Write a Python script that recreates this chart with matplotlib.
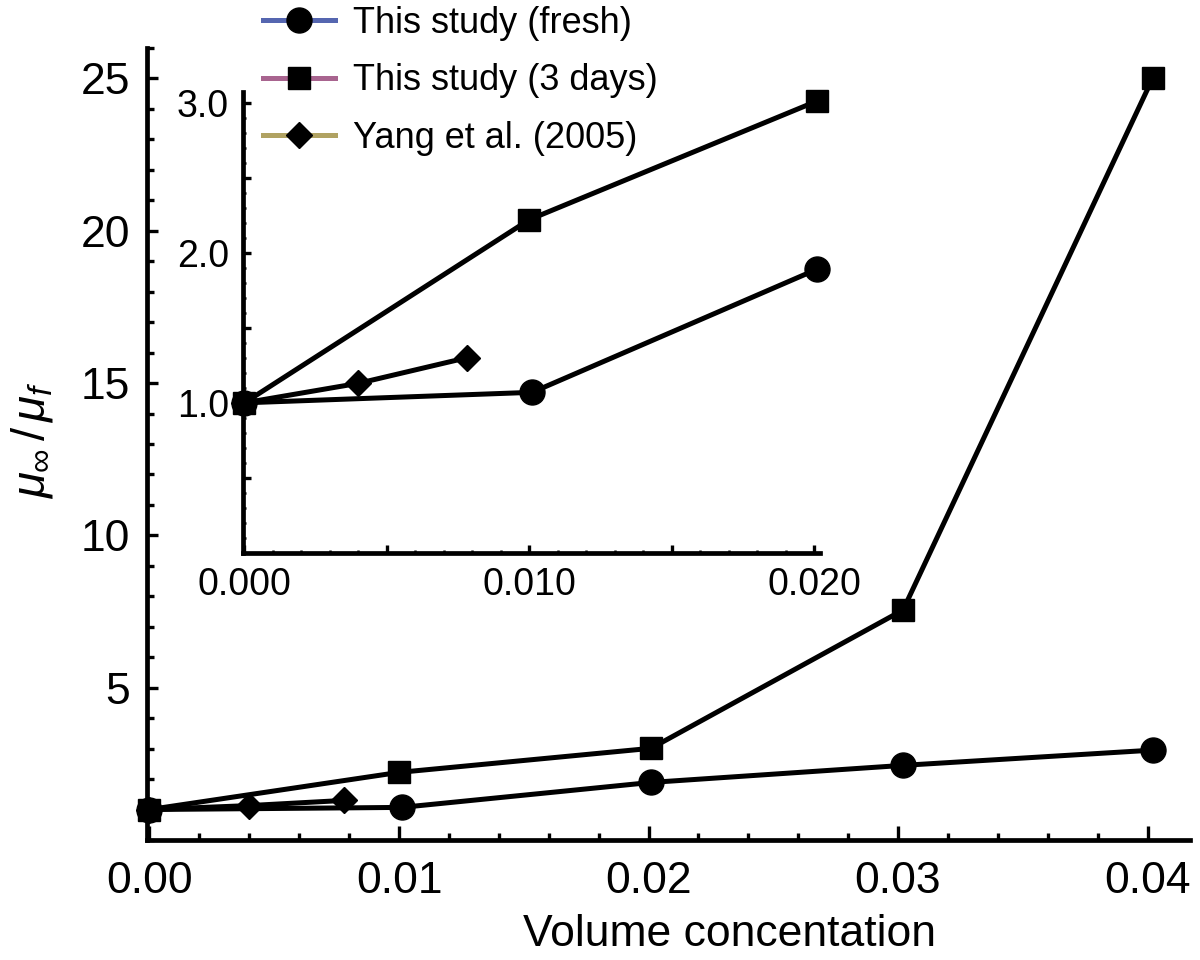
import matplotlib
matplotlib.use("Agg")
import matplotlib.pyplot as plt
from matplotlib.lines import Line2D
from matplotlib.ticker import MultipleLocator, FixedLocator, FixedFormatter

plt.rcParams['font.family'] = ['Liberation Sans', 'DejaVu Sans']
plt.rcParams['mathtext.fontset'] = 'custom'
plt.rcParams['mathtext.rm'] = 'Liberation Sans'
plt.rcParams['mathtext.it'] = 'Liberation Sans:italic'

# data
x_fresh = [0.0, 0.0101, 0.0201, 0.0302, 0.0402]
y_fresh = [1.0, 1.07, 1.89, 2.45, 2.95]
x_3days = [0.0, 0.0100, 0.0201, 0.0302, 0.0402]
y_3days = [1.0, 2.22, 3.01, 7.55, 25.0]
x_yang = [0.0, 0.004, 0.0078]
y_yang = [1.0, 1.13, 1.30]

# inset only shows the low-concentration part
inset_xmax = 0.021

labels = ["This study (fresh)", "This study (3 days)", "Yang et al. (2005)"]
markers = ["o", "s", "D"]
msizes = [18, 16, 13]
legend_colors = ["#5566b0", "#a8648f", "#b0a262"]

LW = 3.6


def draw_series(ax, xmax=None):
  data = [(x_fresh, y_fresh), (x_3days, y_3days), (x_yang, y_yang)]
  for (xs, ys), m, ms in zip(data, markers, msizes):
    if xmax is not None:
      pts = [(a, b) for a, b in zip(xs, ys) if a <= xmax]
      xs = [p[0] for p in pts]
      ys = [p[1] for p in pts]
    ax.plot(xs, ys, color="black", lw=LW, marker=m, ms=ms,
            mfc="black", mec="black", clip_on=False, zorder=5)


def style_axes(ax, fs):
  for side in ["top", "right"]:
    ax.spines[side].set_visible(False)
  for side in ["left", "bottom"]:
    ax.spines[side].set_linewidth(3.4)
  ax.tick_params(which="both", direction="in", width=2.4, labelsize=fs)
  ax.patch.set_visible(False)


fig = plt.figure(figsize=(12, 9.6), dpi=100)

# main axes
ax = fig.add_axes([147/1200, 1-840/960, (1190-147)/1200, (840-48)/960])
draw_series(ax)
ax.set_xlim(-0.0001, 0.0417)
ax.set_ylim(0, 26)
style_axes(ax, 32)
ax.xaxis.set_minor_locator(MultipleLocator(0.002))
ax.set_xticks([0, 0.01, 0.02, 0.03, 0.04])
ax.set_xticklabels(["0.00", "0.01", "0.02", "0.03", "0.04"])
ax.set_yticks([5, 10, 15, 20, 25])
ax.yaxis.set_minor_locator(MultipleLocator(1))
ax.tick_params(axis="x", which="major", length=10, pad=15)
ax.tick_params(axis="x", which="minor", length=5)
ax.tick_params(axis="y", which="major", length=8, pad=12)
ax.tick_params(axis="y", which="minor", length=5)

# inset axes
axi = fig.add_axes([243/1200, 1-553/960, (820-243)/1200, (553-92)/960])
draw_series(axi, xmax=inset_xmax)
axi.set_xlim(-0.00005, 0.0202)
axi.set_ylim(0, 3.07)
style_axes(axi, 27)
xt = [0.0, 0.005, 0.010, 0.015, 0.020]
axi.xaxis.set_major_locator(FixedLocator(xt))
axi.xaxis.set_major_formatter(FixedFormatter(["0.000", "", "0.010", "", "0.020"]))
axi.xaxis.set_minor_locator(MultipleLocator(0.001))
yt = [0.5, 1.0, 1.5, 2.0, 2.5, 3.0]
axi.yaxis.set_major_locator(FixedLocator(yt))
axi.yaxis.set_major_formatter(FixedFormatter(["", "1.0", "", "2.0", "", "3.0"]))
axi.yaxis.set_minor_locator(MultipleLocator(0.1))
axi.tick_params(which="major", length=6, pad=10)
axi.tick_params(which="minor", length=2.5, width=1.8)

# legend: coloured lines with black markers
handles = [Line2D([], [], color=c, lw=3.6, marker=m, ms=ms, mfc="black", mec="black")
           for c, m, ms in zip(legend_colors, markers, msizes)]
fig.legend(handles, labels, loc="upper left", bbox_to_anchor=(263/1200, 0.994),
           frameon=False, fontsize=26, handlelength=2.0, handletextpad=0.5,
           labelspacing=0.62, borderpad=0, borderaxespad=0)

fig.text(32/1200, 1-440/960, r"$\mu_\infty\,/\,\mu_f$", rotation=90,
         ha="center", va="center", fontsize=34)
fig.text(730/1200, 1-935/960, "Volume concentation", ha="center", va="center",
         fontsize=32)

fig.savefig("out.png", dpi=100)
